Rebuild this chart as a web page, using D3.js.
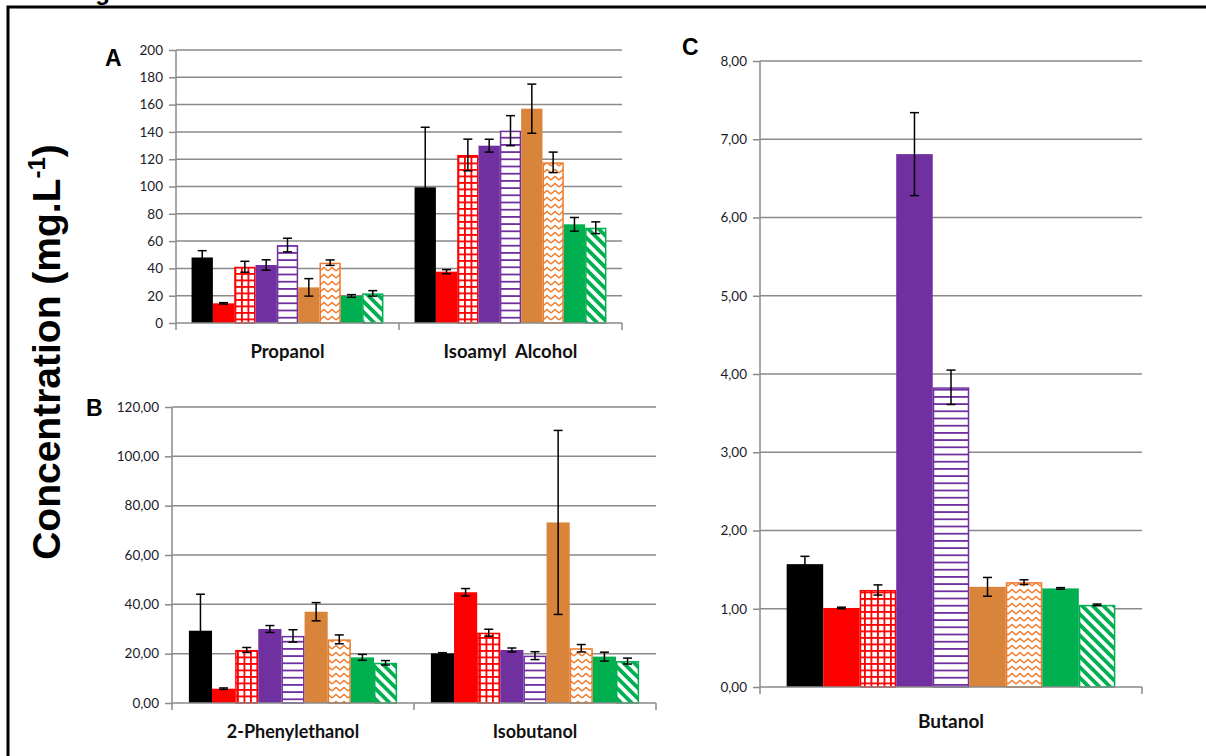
<!DOCTYPE html>
<html>
<head>
<meta charset="utf-8">
<title>Concentration</title>
<script src="https://cdn.jsdelivr.net/npm/d3@7"></script>
<style>
  body { margin: 0; background: #fff; }
  svg { display: block; }
</style>
</head>
<body>
<script>
// series order: black, red, red grid, purple, purple lines, orange, orange zigzag, green, green diagonal
const seriesNames = ["S1", "S2", "S3", "S4", "S5", "S6", "S7", "S8", "S9"];

// A
const catsA = ["Propanol", "Isoamyl  Alcohol"];
const valsA = [
  [48, 14.4, 41.2, 42.5, 57.1, 26.1, 44.2, 19.8, 21.7],
  [99.4, 37.6, 123.1, 129.9, 140.9, 157, 117.7, 72.3, 69.8]
];
const errsA = [
  [5, 0.5, 4, 3.8, 5, 6.4, 2, 1, 2],
  [44, 1.5, 11.6, 4.7, 11, 18, 7.5, 5, 4.3]
];
const ticksA = [0, 20, 40, 60, 80, 100, 120, 140, 160, 180, 200];

// B
const catsB = ["2-Phenylethanol", "Isobutanol"];
const valsB = [
  [29.3, 5.8, 21.5, 30, 27.2, 37, 25.8, 18.5, 16.3],
  [20.1, 44.9, 28.5, 21.5, 19.2, 73.2, 22.2, 18.8, 17]
];
const errsB = [
  [14.8, 0.3, 1, 1.4, 2.5, 3.7, 1.8, 1.2, 0.9],
  [0.3, 1.5, 1.4, 0.8, 1.6, 37.3, 1.5, 1.8, 1.2]
];
const ticksB = [0, 20, 40, 60, 80, 100, 120];

// C
const catsC = ["Butanol"];
const valsC = [[1.57, 1.01, 1.24, 6.81, 3.83, 1.28, 1.34, 1.26, 1.05]];
const errsC = [[0.1, 0.01, 0.065, 0.53, 0.22, 0.12, 0.03, 0.01, 0.01]];
const ticksC = [0, 1, 2, 3, 4, 5, 6, 7, 8];

// couleurs / motifs
const styles = [
  { stroke: "none", fill: "#000000" },
  { stroke: "none", fill: "#ff0000" },
  { stroke: "#ff0000", fill: "url(#redGrid)" },
  { stroke: "none", fill: "#7030a0" },
  { stroke: "#7030a0", fill: "url(#purpleLines)" },
  { stroke: "none", fill: "#d9843b" },
  { stroke: "#ee7a2a", fill: "url(#orangeZig)" },
  { stroke: "none", fill: "#00b050" },
  { stroke: "#00b050", fill: "url(#greenDiag)" }
];

const comma = d3.formatLocale({ decimal: ",", thousands: ".", grouping: [3], currency: ["", ""] });
const gridColor = "#8a8a8a";

const svg = d3.select("body").append("svg")
  .attr("width", 1206)
  .attr("height", 756);

const defs = svg.append("defs");

let p = defs.append("pattern").attr("id", "redGrid").attr("patternUnits", "userSpaceOnUse")
  .attr("width", 6.5).attr("height", 6.5);
p.append("rect").attr("width", 6.5).attr("height", 6.5).attr("fill", "#fff");
p.append("rect").attr("width", 6.5).attr("height", 1.8).attr("fill", "#ff0000");
p.append("rect").attr("width", 1.8).attr("height", 6.5).attr("fill", "#ff0000");

p = defs.append("pattern").attr("id", "purpleLines").attr("patternUnits", "userSpaceOnUse")
  .attr("width", 8).attr("height", 7.2);
p.append("rect").attr("width", 8).attr("height", 7.2).attr("fill", "#fff");
p.append("rect").attr("width", 8).attr("height", 1.8).attr("fill", "#7030a0");

p = defs.append("pattern").attr("id", "orangeZig").attr("patternUnits", "userSpaceOnUse")
  .attr("width", 8).attr("height", 7);
p.append("rect").attr("width", 8).attr("height", 7).attr("fill", "#fff");
p.append("path").attr("d", "M0,5 L4,1.5 L8,5").attr("fill", "none")
  .attr("stroke", "#ee7a2a").attr("stroke-width", 1.4);

p = defs.append("pattern").attr("id", "greenDiag").attr("patternUnits", "userSpaceOnUse")
  .attr("width", 7.5).attr("height", 7.5).attr("patternTransform", "rotate(-45)");
p.append("rect").attr("width", 7.5).attr("height", 7.5).attr("fill", "#fff");
p.append("rect").attr("width", 3.8).attr("height", 7.5).attr("fill", "#00b050");

// cadre
svg.append("path")
  .attr("d", "M8,760 L8,7 L1210,7")
  .attr("fill", "none")
  .attr("stroke", "#000")
  .attr("stroke-width", 3);

// légende de figure, coupée en haut comme sur l'original
svg.append("text")
  .attr("x", 74).attr("y", 0)
  .attr("font-family", "Liberation Sans, Arial, sans-serif")
  .attr("font-weight", "bold")
  .attr("font-size", 24)
  .text("Figure");

function drawPanel(cfg) {
  const g = svg.append("g");
  const top = cfg.ticks[cfg.ticks.length - 1];

  const y = d3.scaleLinear().domain([0, top]).range([cfg.bottom, cfg.top]);
  const x0 = d3.scaleBand().domain(cfg.cats).range([cfg.left, cfg.right]);
  const x1 = d3.scaleBand().domain(seriesNames).range([0, x0.bandwidth()]).paddingOuter(0.73);

  // lignes de grille
  g.append("g").selectAll("line")
    .data(cfg.ticks.slice(1))
    .join("line")
    .attr("x1", cfg.left).attr("x2", cfg.right)
    .attr("y1", d => y(d)).attr("y2", d => y(d))
    .attr("stroke", gridColor)
    .attr("stroke-width", 1.5);

  // barres
  const groups = g.append("g").selectAll("g")
    .data(cfg.cats)
    .join("g")
    .attr("transform", d => `translate(${x0(d)},0)`);

  groups.selectAll("rect")
    .data((c, ci) => seriesNames.map((s, si) => ({ s, si, v: cfg.vals[ci][si], e: cfg.errs[ci][si] })))
    .join("rect")
    .attr("x", d => x1(d.s) + (styles[d.si].stroke === "none" ? 0 : 0.75))
    .attr("y", d => y(d.v) + (styles[d.si].stroke === "none" ? 0 : 0.75))
    .attr("width", d => x1.bandwidth() - (styles[d.si].stroke === "none" ? 0 : 1.5))
    .attr("height", d => y(0) - y(d.v) - (styles[d.si].stroke === "none" ? 0 : 0.75))
    .attr("fill", d => styles[d.si].fill)
    .attr("stroke", d => styles[d.si].stroke)
    .attr("stroke-width", 1.5);

  // barres d'erreur
  const eb = groups.selectAll("g.err")
    .data((c, ci) => seriesNames.map((s, si) => ({ s, v: cfg.vals[ci][si], e: cfg.errs[ci][si] })))
    .join("g")
    .attr("class", "err")
    .attr("stroke", "#000")
    .attr("stroke-width", 1.5);
  const cx = d => x1(d.s) + x1.bandwidth() / 2;
  eb.append("line")
    .attr("x1", cx).attr("x2", cx)
    .attr("y1", d => y(d.v + d.e)).attr("y2", d => y(d.v - d.e));
  eb.append("line")
    .attr("x1", d => cx(d) - 4.5).attr("x2", d => cx(d) + 4.5)
    .attr("y1", d => y(d.v + d.e)).attr("y2", d => y(d.v + d.e));
  eb.append("line")
    .attr("x1", d => cx(d) - 4.5).attr("x2", d => cx(d) + 4.5)
    .attr("y1", d => y(d.v - d.e)).attr("y2", d => y(d.v - d.e));

  // axe y
  const yAxis = g.append("g")
    .attr("transform", `translate(${cfg.left},0)`)
    .call(d3.axisLeft(y).tickValues(cfg.ticks).tickFormat(cfg.fmt).tickSize(7).tickSizeOuter(0).tickPadding(6));
  yAxis.select(".domain").remove();
  yAxis.selectAll(".tick line").attr("stroke", gridColor).attr("stroke-width", 1.5);
  yAxis.selectAll(".tick text")
    .attr("font-family", "Lato, sans-serif")
    .attr("font-size", 13.5)
    .attr("fill", "#1a1a2a");
  g.append("line")
    .attr("x1", cfg.left).attr("x2", cfg.left)
    .attr("y1", cfg.top).attr("y2", cfg.bottom + 7)
    .attr("stroke", gridColor).attr("stroke-width", 1.5);

  // axe x
  g.append("line")
    .attr("x1", cfg.left).attr("x2", cfg.right)
    .attr("y1", cfg.bottom).attr("y2", cfg.bottom)
    .attr("stroke", gridColor).attr("stroke-width", 1.5);
  g.append("g").selectAll("line")
    .data(cfg.cats)
    .join("line")
    .attr("x1", d => x0(d) + x0.bandwidth()).attr("x2", d => x0(d) + x0.bandwidth())
    .attr("y1", cfg.bottom).attr("y2", cfg.bottom + 7)
    .attr("stroke", gridColor).attr("stroke-width", 1.5);

  g.append("g").selectAll("text")
    .data(cfg.cats)
    .join("text")
    .attr("x", d => x0(d) + x0.bandwidth() / 2)
    .attr("y", cfg.bottom + cfg.labelDy)
    .attr("text-anchor", "middle")
    .attr("font-family", "Lato, sans-serif")
    .attr("font-weight", "bold")
    .attr("font-size", cfg.labelSize)
    .attr("fill", "#111")
    .style("white-space", "pre")
    .text(d => d);

  svg.append("text")
    .attr("x", cfg.letterX).attr("y", cfg.letterY)
    .attr("font-family", "Liberation Sans, Arial, sans-serif")
    .attr("font-weight", "bold")
    .attr("font-size", 23)
    .text(cfg.letter);
}

drawPanel({
  cats: catsA, vals: valsA, errs: errsA, ticks: ticksA, fmt: d3.format("d"),
  left: 176, right: 622, top: 50, bottom: 323,
  labelDy: 35, labelSize: 18.5, letter: "A", letterX: 105, letterY: 66
});

drawPanel({
  cats: catsB, vals: valsB, errs: errsB, ticks: ticksB, fmt: comma.format(".2f"),
  left: 172, right: 656, top: 407, bottom: 703,
  labelDy: 35, labelSize: 18, letter: "B", letterX: 86, letterY: 416
});

drawPanel({
  cats: catsC, vals: valsC, errs: errsC, ticks: ticksC, fmt: comma.format(".2f"),
  left: 760, right: 1142, top: 61, bottom: 687,
  labelDy: 41, labelSize: 19, letter: "C", letterX: 682, letterY: 55
});

// titre axe y
const yt = svg.append("text")
  .attr("transform", "translate(60,352) rotate(-90)")
  .attr("text-anchor", "middle")
  .attr("font-family", "Liberation Sans, Arial, sans-serif")
  .attr("font-weight", "bold")
  .attr("font-size", 39)
  .attr("fill", "#000");
yt.append("tspan").text("Concentration (mg.L");
yt.append("tspan").attr("font-size", 24).attr("dy", -15).text("-1");
yt.append("tspan").attr("dy", 15).text(")");
</script>
</body>
</html>
